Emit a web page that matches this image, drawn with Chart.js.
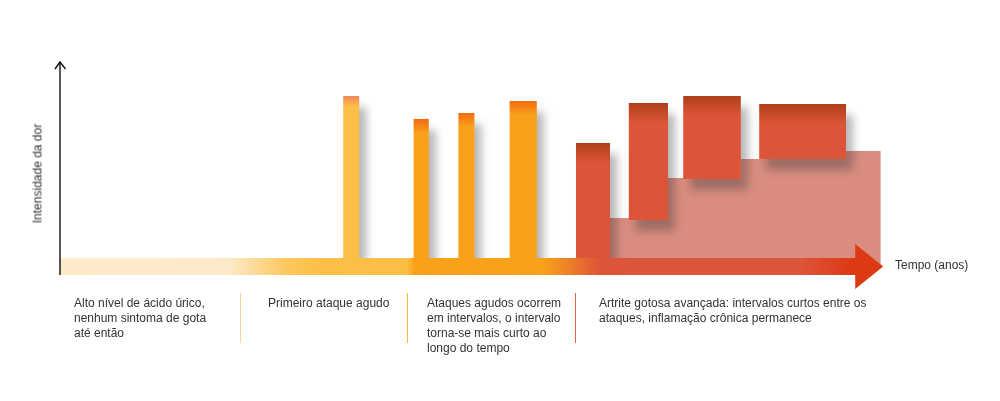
<!DOCTYPE html>
<html lang="pt">
<head>
<meta charset="utf-8">
<title>Evolução da gota</title>
<script src="https://cdn.jsdelivr.net/npm/chart.js@4.4.1/dist/chart.umd.min.js"></script>
<style>
  html, body { margin: 0; padding: 0; background: #fff; }
  #wrap {
    position: relative; width: 1000px; height: 401px; overflow: hidden;
    font-family: "Liberation Sans", Arial, sans-serif; font-size: 12px; color: #333;
  }
  #wrap canvas { position: absolute; left: 0; top: 0; }
  .note { position: absolute; top: 296px; line-height: 15px; white-space: nowrap; }
  .note-0 { left: 74px; }
  .note-1 { left: 268px; }
  .note-2 { left: 427px; }
  .note-3 { left: 599px; }
  .sep { position: absolute; top: 293px; height: 50px; width: 1px; }
  .sep-1 { left: 240px; background: #fcd590; }
  .sep-2 { left: 407px; background: #fbb932; }
  .sep-3 { left: 575px; background: #e0644c; }
  .x-title { position: absolute; left: 895px; top: 258px; line-height: 15px; white-space: nowrap; }
  .y-title {
    position: absolute; left: -22px; top: 166px; width: 120px; line-height: 15px;
    text-align: center; transform: rotate(-90deg); white-space: nowrap;
  }
</style>
</head>
<body>
<div id="wrap">
  <canvas id="graph"></canvas>
</div>
<script>
// Escalas (tempo em unidades arbitrárias, dor de 0 a 10)
const timeRange = [0, 103];
const painRange = [-2, 10];

// Crises: início, fim, pico e base
const attackStart = [35.4, 44.2, 49.8, 56.2, 64.5, 71.1, 77.9, 87.4];
const attackEnd = [37.4, 46.1, 51.8, 59.6, 68.75, 76, 85.1, 98.25];
const attackPeak = [8.27, 7.09, 7.4, 8.01, 5.87, 7.91, 8.27, 7.86];
const attackBase = [0, 0, 0, 0, 0, 1.94, 4.03, 5.05];
const attackStage = ["first", "acute", "acute", "acute", "chronic", "chronic", "chronic", "chronic"];

// Inflamação crônica (degraus)
const chronicX = [68.75, 76, 85.1, 98.25, 102.6];
const chronicLevel = [2.04, 4.08, 5.05, 5.46, 5.46];

// Seta do tempo
const bandTop = 0;
const bandBottom = -0.87;
const arrowBase = 99.4;
const arrowTip = 102.9;
const arrowTop = 0.71;
const arrowBottom = -1.58;

// Textos
const axisTitles = { x: "Tempo (anos)", y: "Intensidade da dor" };
const stageNotes = [
  ["Alto nível de ácido úrico,", "nenhum sintoma de gota", "até então"],
  ["Primeiro ataque agudo"],
  ["Ataques agudos ocorrem", "em intervalos, o intervalo", "torna-se mais curto ao", "longo do tempo"],
  ["Artrite gotosa avançada: intervalos curtos entre os", "ataques, inflamação crônica permanece"],
];

// Cores
const stageColors = {
  first: { top: "#f3875c", body: "#fcbf45", fade: 11 },
  acute: { top: "#f46a12", body: "#f9a11b", fade: 14 },
  chronic: { top: "#ae3f19", body: "#dc5538", fade: 20 },
};
const chronicColor = "#d98c7f";
const timeColorStops = [
  [0, "#fdebca"], [21, "#fdeaca"], [28.5, "#fcc75c"], [33, "#fcbf45"],
  [43.3, "#fcbf45"], [44.3, "#f9a11b"], [60.5, "#f9a11b"], [67.5, "#dd5538"],
  [92.5, "#dd5538"], [98.8, "#dc3a15"],
];

function topGradient(chart, peak, colors) {
  const y = chart.scales.y;
  const top = y ? y.getPixelForValue(peak) : NaN;
  if (!isFinite(top)) return colors.body;
  const g = chart.ctx.createLinearGradient(0, top, 0, top + colors.fade);
  g.addColorStop(0, colors.top);
  g.addColorStop(1, colors.body);
  return g;
}

function timeGradient(chart) {
  const x = chart.scales.x;
  const left = x ? x.getPixelForValue(timeRange[0]) : NaN;
  const right = x ? x.getPixelForValue(timeRange[1]) : NaN;
  if (!isFinite(left) || !isFinite(right) || right <= left) return "#f9a11b";
  const g = chart.ctx.createLinearGradient(left, 0, right, 0);
  timeColorStops.forEach(([v, color]) => {
    g.addColorStop((x.getPixelForValue(v) - left) / (right - left), color);
  });
  return g;
}

// Sombra: tem de estar ativa antes do filler desenhar o dataset seguinte
function setShadow(chart, meta) {
  const ctx = chart.ctx;
  const on = meta && chart.data.datasets[meta.index].shadow;
  ctx.shadowColor = on ? "rgba(50,50,50,0.35)" : "rgba(0,0,0,0)";
  ctx.shadowBlur = on ? 8 : 0;
  ctx.shadowOffsetX = on ? 7 : 0;
  ctx.shadowOffsetY = on ? 11 : 0;
}

const barShadow = {
  id: "barShadow",
  beforeDatasetsDraw(chart) {
    const metas = chart.getSortedVisibleDatasetMetas();
    setShadow(chart, metas[metas.length - 1]);
  },
  afterDatasetDraw(chart, args) {
    const metas = chart.getSortedVisibleDatasetMetas();
    const pos = metas.findIndex((m) => m.index === args.index);
    setShadow(chart, metas[pos - 1]);
  },
  afterDatasetsDraw(chart) {
    setShadow(chart, null);
  },
};

// Eixo vertical com ponta de seta
const axisArrow = {
  id: "axisArrow",
  afterDatasetsDraw(chart) {
    const { ctx, scales: { x, y } } = chart;
    const px = x.getPixelForValue(timeRange[0]);
    const bottom = y.getPixelForValue(bandBottom);
    const top = y.getPixelForValue(painRange[1]);
    ctx.save();
    ctx.strokeStyle = "#111";
    ctx.lineWidth = 1.4;
    ctx.beginPath();
    ctx.moveTo(px, bottom);
    ctx.lineTo(px, top);
    ctx.stroke();
    ctx.beginPath();
    ctx.moveTo(px - 5, top + 7);
    ctx.lineTo(px, top);
    ctx.lineTo(px + 5.5, top + 7);
    ctx.stroke();
    ctx.restore();
  },
};

const attackDatasets = attackStart.map((start, i) => ({
  label: `Ataque ${i + 1}`,
  data: [
    { x: start, y: attackBase[i] },
    { x: start, y: attackPeak[i] },
    { x: attackEnd[i], y: attackPeak[i] },
    { x: attackEnd[i], y: attackBase[i] },
  ],
  fill: "shape",
  backgroundColor: (c) => topGradient(c.chart, attackPeak[i], stageColors[attackStage[i]]),
  shadow: true,
  order: 2,
}));

const timeDataset = {
  label: axisTitles.x,
  data: [
    { x: timeRange[0], y: bandTop },
    { x: arrowBase, y: bandTop },
    { x: arrowBase, y: arrowTop },
    { x: arrowTip, y: (bandTop + bandBottom) / 2 },
    { x: arrowBase, y: arrowBottom },
    { x: arrowBase, y: bandBottom },
    { x: timeRange[0], y: bandBottom },
  ],
  fill: "shape",
  backgroundColor: (c) => timeGradient(c.chart),
  order: 1,
};

const chronicDataset = {
  label: "Inflamação crônica",
  data: chronicX.map((x, i) => ({ x, y: chronicLevel[i] })),
  stepped: "before",
  fill: { value: bandBottom / 2 },
  backgroundColor: chronicColor,
  order: 3,
};

// Textos em HTML
const wrap = document.getElementById("wrap");
stageNotes.forEach((lines, i) => {
  const note = document.createElement("div");
  note.className = `note note-${i}`;
  note.innerHTML = lines.join("<br>");
  wrap.appendChild(note);
  if (i > 0) {
    const sep = document.createElement("div");
    sep.className = `sep sep-${i}`;
    wrap.appendChild(sep);
  }
});
const xTitle = document.createElement("div");
xTitle.className = "x-title";
xTitle.textContent = axisTitles.x;
wrap.appendChild(xTitle);
const yTitle = document.createElement("div");
yTitle.className = "y-title";
yTitle.textContent = axisTitles.y;
wrap.appendChild(yTitle);

const chart = new Chart(document.getElementById("graph"), {
  type: "line",
  data: { datasets: [timeDataset, ...attackDatasets, chronicDataset] },
  options: {
    responsive: true,
    maintainAspectRatio: false,
    animation: false,
    events: [],
    layout: { padding: { left: 60, right: 116, top: 62, bottom: 103.8 } },
    datasets: {
      line: { borderWidth: 0, borderColor: "rgba(0,0,0,0)", pointRadius: 0, clip: false },
    },
    scales: {
      x: { type: "linear", min: timeRange[0], max: timeRange[1], display: false },
      y: { type: "linear", min: painRange[0], max: painRange[1], display: false },
    },
    plugins: {
      legend: { display: false },
      tooltip: { enabled: false },
    },
  },
  plugins: [barShadow, axisArrow],
});
// Gradientes dependem das escalas já posicionadas
chart.update();
</script>
</body>
</html>
